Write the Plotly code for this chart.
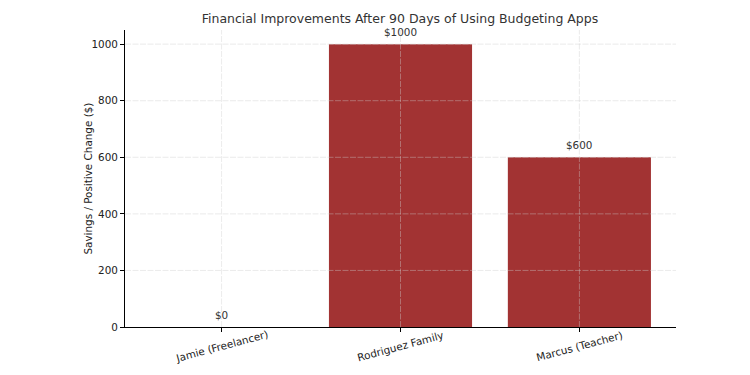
import plotly.graph_objects as go

categories = ["Jamie (Freelancer)", "Rodriguez Family", "Marcus (Teacher)"]
savings = [0, 1000, 600]
labels = ["$0", "$1000", "$600"]
y_ticks = [0, 200, 400, 600, 800, 1000]

font = "DejaVu Sans, sans-serif"
grid_col = "rgba(205,205,205,0.4)"
# page body adds an 8px margin; size the figure so the window shows it all
W, H = 742, 367
L, R, T, B = 117, 74, 22, 48
plot_w = W - L - R

fig = go.Figure()
fig.add_trace(go.Bar(
    x=categories, y=savings, width=0.8,
    marker=dict(color="#a23333", line=dict(width=0)),
    showlegend=False,
))
for c, v, t in zip(categories, savings, labels):
    fig.add_annotation(x=c, y=v, text=t, showarrow=False, yshift=12,
                       font=dict(family=font, size=10.4, color="#333333"))

# rotated category labels, centred on their ticks
for c in categories:
    fig.add_annotation(x=c, xref="x", y=0, yref="paper", text=c, showarrow=False,
                       textangle=-15, yshift=-19, xanchor="center", yanchor="middle",
                       font=dict(family=font, size=10.4, color="#222222"))

# y-axis title
fig.add_annotation(x=-38 / plot_w, xref="paper", y=0.5, yref="paper",
                   text="Savings / Positive Change ($)", showarrow=False, textangle=-90,
                   xanchor="center", yanchor="middle",
                   font=dict(family=font, size=10.4, color="#222222"))

# grid lines drawn above the bars (as in the reference)
for yv in y_ticks[1:]:
    fig.add_shape(type="line", xref="paper", x0=0, x1=1, yref="y", y0=yv, y1=yv,
                  line=dict(color=grid_col, width=1, dash="6px,1.5px"), layer="above")
for c in categories:
    fig.add_shape(type="line", xref="x", x0=c, x1=c, yref="paper", y0=0, y1=1,
                  line=dict(color=grid_col, width=1, dash="6px,1.5px"), layer="above")

fig.update_layout(
    width=W, height=H,
    margin=dict(l=L, r=R, t=T, b=B),
    plot_bgcolor="white", paper_bgcolor="white",
    title=dict(text="Financial Improvements After 90 Days of Using Budgeting Apps",
               x=(400 - 8) / W, xanchor="center", y=1 - 11 / H, yanchor="middle",
               font=dict(family=font, size=12.5, color="#333333")),
    font=dict(family=font, size=10.4, color="#222222"),
)
fig.update_xaxes(
    range=[-0.54, 2.54], automargin=False, showticklabels=False,
    showline=True, linecolor="black", linewidth=1,
    ticks="outside", ticklen=4, tickcolor="black",
    showgrid=False,
)
fig.update_yaxes(
    range=[0, 1050], tickvals=y_ticks, automargin=False,
    showline=True, linecolor="black", linewidth=1,
    ticks="outside", ticklen=4, tickcolor="black",
    showgrid=False, zeroline=False,
    tickfont=dict(family=font, size=10.4, color="#222222"),
)

fig.write_html("out.html")
